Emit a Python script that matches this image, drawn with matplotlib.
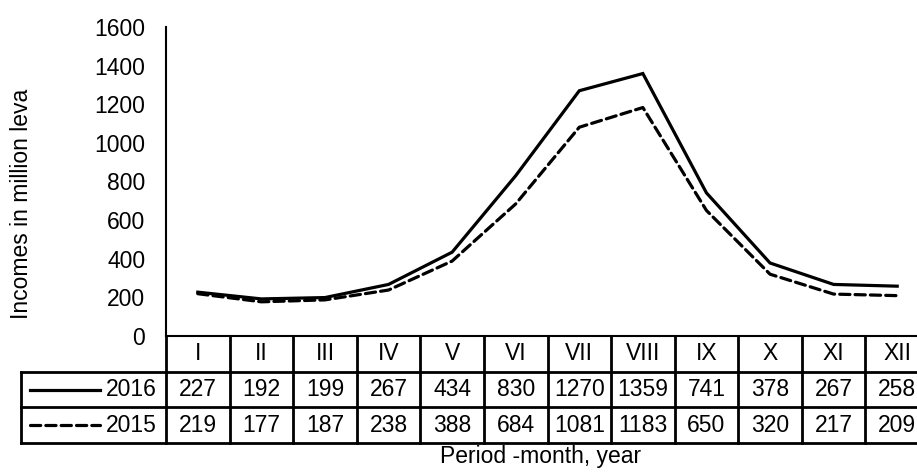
import matplotlib.pyplot as plt
import numpy as np

plt.rcParams['font.family'] = ['Liberation Sans', 'DejaVu Sans']

months = ["I", "II", "III", "IV", "V", "VI", "VII", "VIII", "IX", "X", "XI", "XII"]
years = ["2016", "2015"]
inc_2016 = [227, 192, 199, 267, 434, 830, 1270, 1359, 741, 378, 267, 258]
inc_2015 = [219, 177, 187, 238, 388, 684, 1081, 1183, 650, 320, 217, 209]
yticks = [0, 200, 400, 600, 800, 1000, 1200, 1400, 1600]

W, H = 917, 472
fs = 16.5
fig = plt.figure(figsize=(W / 100, H / 100), dpi=100)

# plot area (right edge runs a little past the figure, like the source image)
x0, x1 = 166, 929
cw = (x1 - x0) / 12
y_top, y_axis = 27, 336
ax = fig.add_axes([x0 / W, 1 - y_axis / H, (x1 - x0) / W, (y_axis - y_top) / H])
x = np.arange(len(months)) + 0.5
ax.plot(x, inc_2016, color="black", lw=2.3, solid_joinstyle="miter")
ax.plot(x, inc_2015, color="black", lw=2.3, dashes=(3.2, 1.6), dash_capstyle="round")
ax.set_xlim(0, len(months))
ax.set_ylim(0, 1600)
ax.set_yticks(yticks)
ax.set_xticks([])
ax.tick_params(axis="y", length=0, pad=15, labelsize=fs)
for s in ["top", "right"]:
    ax.spines[s].set_visible(False)
for s in ["left", "bottom"]:
    ax.spines[s].set_linewidth(1.5)

# data table
lab_w = (x0 - 21) / cw
tb = fig.add_axes([21 / W, 1 - 443 / H, (x1 - 21) / W, (443 - y_axis) / H])
tb.set_xlim(-lab_w, len(months))
tb.set_ylim(3, 0)
tb.axis("off")
lw = 2.0
n = len(months)
for i in range(n + 1):
    tb.plot([i, i], [0, 3], color="black", lw=lw, clip_on=False)
tb.plot([-lab_w, -lab_w], [1, 3], color="black", lw=lw, clip_on=False)
for r in [1, 2, 3]:
    tb.plot([-lab_w, n], [r, r], color="black", lw=lw, clip_on=False)
for i, m in enumerate(months):
    tb.text(i + 0.5, 0.5, m, ha="center", va="center", fontsize=fs)
for r, vals in enumerate([inc_2016, inc_2015]):
    for i, v in enumerate(vals):
        tb.text(i + 0.5, r + 1.5, str(v), ha="center", va="center", fontsize=fs)
    tb.text(-9 / cw, r + 1.5, years[r], ha="right", va="center", fontsize=fs)
kx = [(30 - x0) / cw, (100 - x0) / cw]
tb.plot(kx, [1.5, 1.5], color="black", lw=2.3, clip_on=False)
tb.plot(kx, [2.5, 2.5], color="black", lw=2.3, dashes=(3.2, 1.6), dash_capstyle="round", clip_on=False)

fig.text(541 / W, 1 - 457 / H, "Period -month, year", ha="center", va="center", fontsize=fs)
fig.text(22 / W, 1 - 204 / H, "Incomes in million leva", ha="center", va="center",
         rotation=90, fontsize=fs)

plt.savefig("out.png", dpi=100)
